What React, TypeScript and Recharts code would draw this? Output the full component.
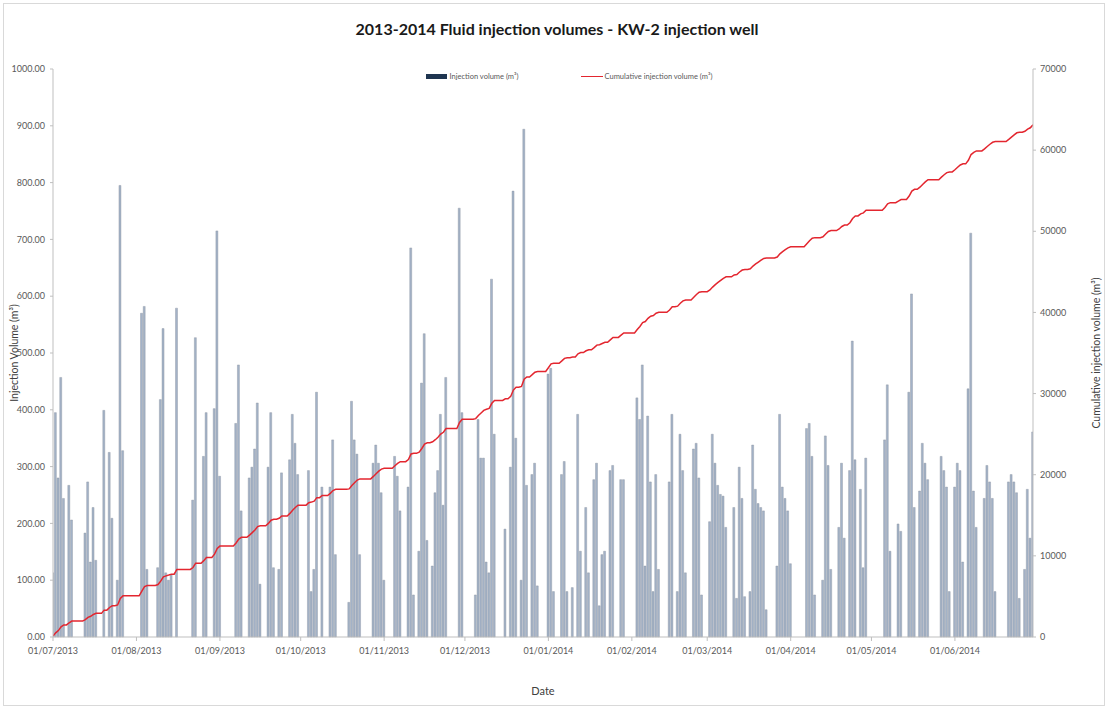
import React from 'react';
import { ComposedChart, Bar, Line, XAxis, YAxis, Label } from 'recharts';

const chartTitle = '2013-2014 Fluid injection volumes - KW-2 injection well';
const barSeriesName = 'Injection volume (m³)';
const lineSeriesName = 'Cumulative injection volume (m³)';

const monthLabels = [
  '01/07/2013', '01/08/2013', '01/09/2013', '01/10/2013', '01/11/2013', '01/12/2013',
  '01/01/2014', '01/02/2014', '01/03/2014', '01/04/2014', '01/05/2014', '01/06/2014',
];

// daily injection volumes (m³), one array per month
const jul2013 = [113,395,280,457,244,0,267,206,0,0,0,0,183,273,132,228,135,0,0,399,0,325,209,0,100,795,328,0,0,0,0];
const aug2013 = [0,0,570,582,119,0,0,0,122,418,543,113,100,109,0,579,0,0,0,0,0,241,527,0,0,318,395,0,0,402,715];
const sep2013 = [283,0,0,0,0,0,376,479,222,0,0,280,299,331,412,93,0,0,299,395,122,0,119,289,0,0,312,392,341,286];
const oct2013 = [0,0,0,293,80,119,431,0,264,0,0,264,347,145,0,0,0,0,61,415,347,322,145,0,0,0,0,306,338,306,254];
const nov2013 = [100,0,0,0,318,283,222,0,0,264,685,74,0,151,447,534,170,0,125,254,293,392,232,457,0,0,0,0,755,395];
const dec2013 = [0,0,0,0,74,383,315,315,132,113,630,357,0,0,0,190,0,299,785,350,0,100,894,267,0,286,306,90,0,0,0];
const jan2014 = [463,473,80,0,0,286,309,80,0,87,0,392,151,0,228,113,0,277,306,55,145,151,0,293,302,0,0,277,277,0,0];
const feb2014 = [0,0,421,383,479,125,389,273,80,286,119,0,0,0,273,392,0,80,357,293,113,0,0,331,341,280,74,0];
const mar2014 = [0,203,357,306,267,251,248,193,0,0,228,68,299,244,71,0,80,338,260,235,228,222,48,0,0,0,125,392,264,244,222];
const apr2014 = [129,0,0,0,0,0,367,376,318,74,0,0,100,354,302,119,0,0,193,306,174,0,293,521,312,0,260,122,315,0];
const may2014 = [0,0,0,0,0,347,444,151,0,0,199,186,0,0,431,604,228,0,257,341,306,277,0,0,0,0,318,293,264,80,0];
const jun2014 = [264,306,293,132,0,437,711,257,193,0,0,244,302,273,244,80,0,0,0,0,273,286,273,254,68,0,119,260,174,361];

const months = [jul2013, aug2013, sep2013, oct2013, nov2013, dec2013, jan2014, feb2014, mar2014, apr2014, may2014, jun2014];

const leftTicks = [0, 100, 200, 300, 400, 500, 600, 700, 800, 900, 1000];
const rightTicks = [0, 10000, 20000, 30000, 40000, 50000, 60000, 70000];

// build table
const monthStartDay: number[] = [];
const data: { day: number; volume: number; cumulative: number }[] = [];
{
  let day = 0;
  let cum = 0;
  months.forEach((m) => {
    monthStartDay.push(day);
    m.forEach((v) => {
      cum += v;
      data.push({ day, volume: v, cumulative: cum });
      day += 1;
    });
  });
}
const lastDay = data.length - 1;

const FONT = 'Lato, "Liberation Sans", sans-serif';
const tickStyle = { fontSize: 9, fill: '#595959', fontFamily: FONT };

const LegendBox = () => (
  <div
    style={{
      position: 'absolute',
      top: 72,
      left: 0,
      width: 1110,
      display: 'flex',
      justifyContent: 'center',
      alignItems: 'center',
      gap: 62,
      fontFamily: FONT,
      fontSize: 7.5,
      color: '#595959',
      paddingLeft: 28,
      boxSizing: 'border-box',
    }}
  >
    <div style={{ display: 'flex', alignItems: 'center' }}>
      <span style={{ display: 'inline-block', width: 21, height: 5, background: '#1f3550', marginRight: 3 }} />
      <span>{barSeriesName}</span>
    </div>
    <div style={{ display: 'flex', alignItems: 'center' }}>
      <span style={{ display: 'inline-block', width: 22, height: 1.5, background: '#e3262f', marginRight: 2 }} />
      <span>{lineSeriesName}</span>
    </div>
  </div>
);

export default function App() {
  return (
    <div style={{ position: 'absolute', left: 0, top: 0, width: 1110, height: 711, background: '#fff' }}>
      <div
        style={{
          position: 'absolute',
          left: 3,
          top: 3,
          width: 1102,
          height: 703,
          border: '1px solid #d9d9d9',
          boxSizing: 'border-box',
        }}
      />
      <div
        style={{
          position: 'absolute',
          top: 19,
          left: 0,
          width: 1110,
          textAlign: 'center',
          fontFamily: FONT,
          fontWeight: 700,
          fontSize: 16,
          color: '#1a1a1a',
          paddingLeft: 4,
          boxSizing: 'border-box',
        }}
      >
        {chartTitle}
      </div>
      <ComposedChart
        width={1110}
        height={711}
        data={data}
        margin={{ top: 69, right: 0, left: 0, bottom: 0 }}
        style={{ position: 'absolute', left: 0, top: 0 }}
      >
        <XAxis
          xAxisId="x"
          dataKey="day"
          type="number"
          domain={[0, lastDay]}
          ticks={monthStartDay}
          tickFormatter={(v: number) => monthLabels[monthStartDay.indexOf(v)] ?? ''}
          allowDataOverflow
          height={74}
          tick={tickStyle}
          tickSize={4}
          tickMargin={7}
          stroke="#bfbfbf"
          interval={0}
        >
          <Label value="Date" position="insideBottom" offset={16} style={{ fontSize: 11, fill: '#404040', fontFamily: FONT }} />
        </XAxis>
        <YAxis
          yAxisId="left"
          orientation="left"
          width={53}
          domain={[0, 1000]}
          ticks={leftTicks}
          tickFormatter={(v: number) => v.toFixed(2)}
          tick={tickStyle}
          tickSize={3}
          tickMargin={5}
          stroke="#bfbfbf"
          interval={0}
        >
          <Label
            value="Injection Volume (m³)"
            angle={-90}
            position="insideLeft"
            offset={14}
            style={{ fontSize: 10.5, fill: '#404040', fontFamily: FONT, textAnchor: 'middle' }}
          />
        </YAxis>
        <YAxis
          yAxisId="right"
          orientation="right"
          width={77}
          domain={[0, 70000]}
          ticks={rightTicks}
          tick={tickStyle}
          tickSize={3}
          tickMargin={4}
          stroke="#bfbfbf"
          interval={0}
        >
          <Label
            value="Cumulative injection volume (m³)"
            angle={-90}
            position="insideRight"
            offset={14}
            style={{ fontSize: 10.5, fill: '#404040', fontFamily: FONT, textAnchor: 'middle' }}
          />
        </YAxis>
        <Bar
          xAxisId="x"
          yAxisId="left"
          dataKey="volume"
          name={barSeriesName}
          barSize={2}
          fill="#a3b2c7"
          stroke="#8c939e"
          strokeWidth={0.4}
          isAnimationActive={false}
        />
        <Line
          xAxisId="x"
          yAxisId="right"
          dataKey="cumulative"
          name={lineSeriesName}
          type="linear"
          stroke="#e3262f"
          strokeWidth={1.5}
          dot={false}
          isAnimationActive={false}
        />
      </ComposedChart>
      <LegendBox />
    </div>
  );
}
